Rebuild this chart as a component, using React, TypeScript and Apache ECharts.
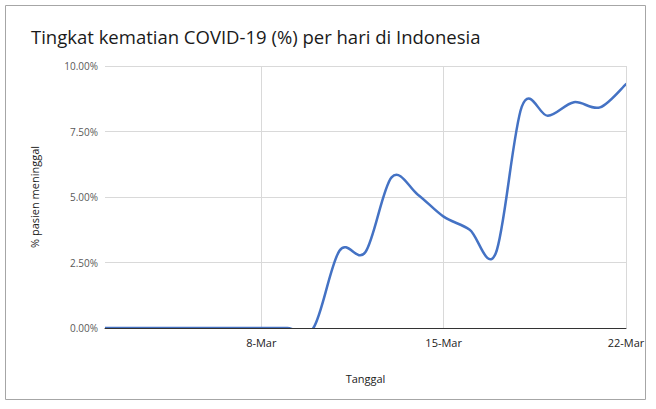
import React, { useEffect, useRef } from "react";
import * as echarts from "echarts";

const dates = [
  "2-Mar", "3-Mar", "4-Mar", "5-Mar", "6-Mar", "7-Mar", "8-Mar", "9-Mar", "10-Mar",
  "11-Mar", "12-Mar", "13-Mar", "14-Mar", "15-Mar", "16-Mar", "17-Mar", "18-Mar",
  "19-Mar", "20-Mar", "21-Mar", "22-Mar",
];
const deathRate = [
  0, 0, 0, 0, 0, 0, 0, 0, 0,
  2.95, 2.9, 5.75, 5.1, 4.25, 3.75, 2.85, 8.45,
  8.1, 8.62, 8.42, 9.31,
];
const shownTicks = ["8-Mar", "15-Mar", "22-Mar"];
const titleText = "Tingkat kematian COVID-19 (%) per hari di Indonesia";

export default function App() {
  const ref = useRef<HTMLDivElement>(null);
  useEffect(() => {
    document.body.style.margin = "0";
    const chart = echarts.init(ref.current!, null, { renderer: "svg" });
    const font = "'Open Sans', 'Noto Sans', sans-serif";
    const seriesData = deathRate.map((v, i) => [i, v]);
    chart.setOption({
      animation: false,
      backgroundColor: "#ffffff",
      textStyle: { fontFamily: font },
      title: {
        text: titleText,
        left: 26,
        top: 22,
        textStyle: { fontFamily: font, fontSize: 18.5, fontWeight: "normal", color: "#1a1a1a" },
      },
      graphic: [
        {
          type: "rect",
          shape: { x: 5.5, y: 5.5, width: 640, height: 394 },
          style: { fill: "none", stroke: "#a6a6a6", lineWidth: 1 },
          silent: true,
        },
      ],
      grid: { left: 105, right: 30, top: 66, bottom: 81 },
      xAxis: {
        type: "category",
        data: dates,
        boundaryGap: false,
        name: "Tanggal",
        nameLocation: "middle",
        nameGap: 45,
        nameTextStyle: { fontSize: 11, color: "#222222" },
        axisLine: { lineStyle: { color: "#333333", width: 1 } },
        axisTick: { show: false },
        axisLabel: {
          interval: (i: number, v: string) => shownTicks.includes(v),
          fontSize: 11,
          color: "#222222",
          margin: 9,
        },
        splitLine: {
          show: true,
          interval: (i: number, v: string) => shownTicks.includes(v),
          lineStyle: { color: "#d9d9d9", width: 1 },
        },
      },
      yAxis: {
        type: "value",
        min: 0,
        max: 10,
        interval: 2.5,
        name: "% pasien meninggal",
        nameLocation: "middle",
        nameGap: 65,
        nameTextStyle: { fontSize: 11, color: "#222222" },
        axisLine: { show: false },
        axisTick: { show: false },
        axisLabel: {
          formatter: (v: number) => v.toFixed(2) + "%",
          fontSize: 10,
          color: "#595959",
          margin: 7,
        },
        splitLine: { lineStyle: { color: "#d9d9d9", width: 1 } },
      },
      series: [
        {
          type: "custom",
          data: seriesData,
          encode: { x: 0, y: 1 },
          clip: true,
          silent: true,
          renderItem: (params: any, api: any) => {
            if (params.dataIndex !== 0) return null;
            const pts = seriesData.map((d) => api.coord(d));
            let path = `M${pts[0][0]},${pts[0][1]}`;
            for (let i = 0; i < pts.length - 1; i++) {
              const p0 = pts[i - 1] || pts[i];
              const p1 = pts[i];
              const p2 = pts[i + 1];
              const p3 = pts[i + 2] || p2;
              const c1x = p1[0] + (p2[0] - p0[0]) / 6;
              const c1y = p1[1] + (p2[1] - p0[1]) / 6;
              const c2x = p2[0] - (p3[0] - p1[0]) / 6;
              const c2y = p2[1] - (p3[1] - p1[1]) / 6;
              path += ` C${c1x},${c1y} ${c2x},${c2y} ${p2[0]},${p2[1]}`;
            }
            const cs = params.coordSys;
            return {
              type: "group",
              clipPath: {
                type: "rect",
                shape: { x: cs.x - 5, y: cs.y - 5, width: cs.width + 10, height: cs.height + 5 },
              },
              children: [
                {
                  type: "path",
                  shape: { pathData: path },
                  style: { fill: "none", stroke: "#4472c4", lineWidth: 2.5, lineJoin: "round", lineCap: "round" },
                },
              ],
            };
          },
        },
      ],
    });
    return () => chart.dispose();
  }, []);
  return <div ref={ref} style={{ width: 656, height: 409 }} />;
}
